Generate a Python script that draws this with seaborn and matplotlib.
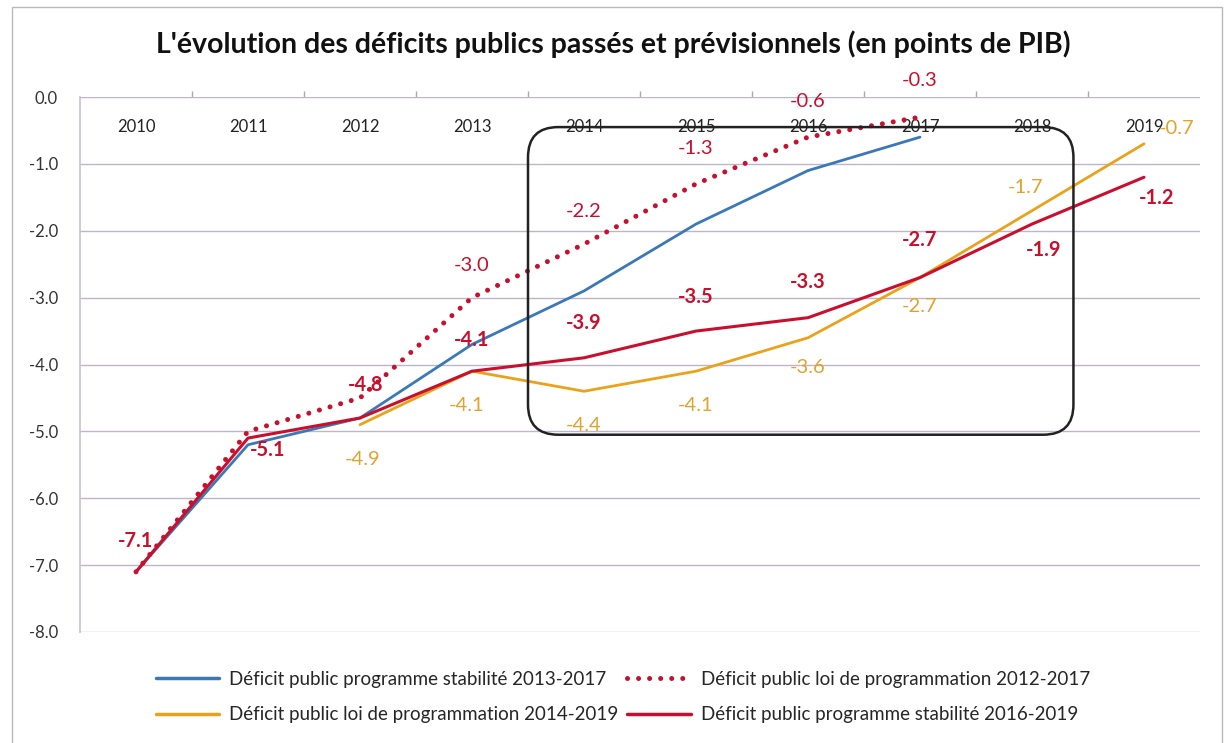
import pandas as pd
import matplotlib.pyplot as plt
import seaborn as sns
from matplotlib.patches import FancyBboxPatch, Rectangle
from matplotlib.lines import Line2D

# data (points de PIB)
years = [2010, 2011, 2012, 2013, 2014, 2015, 2016, 2017, 2018, 2019]

ps_2013_years = [2010, 2011, 2012, 2013, 2014, 2015, 2016, 2017]
ps_2013 = [-7.1, -5.2, -4.8, -3.7, -2.9, -1.9, -1.1, -0.6]

lpfp_2012_years = [2010, 2011, 2012, 2013, 2014, 2015, 2016, 2017]
lpfp_2012 = [-7.1, -5.0, -4.5, -3.0, -2.2, -1.3, -0.6, -0.3]

lpfp_2014_years = [2012, 2013, 2014, 2015, 2016, 2017, 2018, 2019]
lpfp_2014 = [-4.9, -4.1, -4.4, -4.1, -3.6, -2.7, -1.7, -0.7]

ps_2016_years = [2010, 2011, 2012, 2013, 2014, 2015, 2016, 2017, 2018, 2019]
ps_2016 = [-7.1, -5.1, -4.8, -4.1, -3.9, -3.5, -3.3, -2.7, -1.9, -1.2]

names = ["Déficit public programme stabilité 2013-2017",
         "Déficit public loi de programmation 2012-2017",
         "Déficit public loi de programmation 2014-2019",
         "Déficit public programme stabilité 2016-2019"]

BLUE = "#3a78b8"
RED = "#c8102e"
ORANGE = "#eaa21a"
ORANGE_TXT = "#e2a22c"

# label offsets in pixels (dx, dy), years that get a label
lab_lpfp_2012 = {2013: (0, 32), 2014: (0, 33), 2015: (0, 35), 2016: (0, 36), 2017: (0, 37)}
lab_lpfp_2014 = {2012: (3, -35), 2013: (-5, -34), 2014: (0, -34), 2015: (0, -34),
                 2016: (0, -30), 2017: (0, -29), 2018: (-6, 23), 2019: (33, 15)}
lab_ps_2016 = {2010: (0, 31), 2011: (20, -12), 2012: (6, 33), 2013: (0, 31), 2014: (0, 35),
               2015: (0, 34), 2016: (0, 36), 2017: (0, 38), 2018: (12, -26), 2019: (13, -21)}

sns.set_theme(style="white")
plt.rcParams['font.family'] = ['Lato', 'DejaVu Sans']

fig = plt.figure(figsize=(12.26, 7.43), dpi=100)
ax = fig.add_axes([80 / 1226, 1 - 632 / 743, 1120 / 1226, 535 / 743])

df_blue = pd.DataFrame({"year": ps_2013_years, "val": ps_2013})
df_dot = pd.DataFrame({"year": lpfp_2012_years, "val": lpfp_2012})
df_or = pd.DataFrame({"year": lpfp_2014_years, "val": lpfp_2014})
df_red = pd.DataFrame({"year": ps_2016_years, "val": ps_2016})

sns.lineplot(data=df_blue, x="year", y="val", color=BLUE, lw=2.0, ax=ax, zorder=3)
sns.lineplot(data=df_dot, x="year", y="val", color=RED, lw=3.6, ax=ax, zorder=4,
             linestyle=(0, (0.01, 2.2)), dash_capstyle="round")
sns.lineplot(data=df_or, x="year", y="val", color=ORANGE, lw=2.0, ax=ax, zorder=3)
sns.lineplot(data=df_red, x="year", y="val", color=RED, lw=2.2, ax=ax, zorder=3)


def add_labels(xs, vs, offsets, color, weight):
    for x, v in zip(xs, vs):
        if x not in offsets:
            continue
        dx, dy = offsets[x]
        ax.annotate(f"{v:.1f}", (x, v), xytext=(dx, dy), textcoords="offset pixels",
                    ha="center", va="center", fontsize=14.5, color=color,
                    fontweight=weight, zorder=6)


add_labels(lpfp_2012_years, lpfp_2012, lab_lpfp_2012, RED, "normal")
add_labels(lpfp_2014_years, lpfp_2014, lab_lpfp_2014, ORANGE_TXT, "normal")
add_labels(ps_2016_years, ps_2016, lab_ps_2016, RED, "bold")

ax.set_xlim(2009.5, 2019.5)
ax.set_ylim(-8, 0)
ax.set_yticks(range(-8, 1))
ax.set_yticklabels([f"{t:.1f}" for t in range(-8, 1)])
ax.yaxis.grid(True, color="#bdb6c8", lw=1.0)
ax.set_axisbelow(True)

ax.xaxis.tick_top()
ax.set_xticks(years)
ax.set_xticklabels([str(y) for y in years])
ax.set_xticks([y + 0.5 for y in years[:-1]], minor=True)
ax.tick_params(axis="x", which="major", length=0, pad=-27, labelsize=12, labelcolor="#222222")
ax.tick_params(axis="x", which="minor", length=4, color="#aaaaaa", top=True, direction="out")
ax.tick_params(axis="y", length=0, pad=16, labelsize=12, labelcolor="#333333")
ax.set_xlabel("")
ax.set_ylabel("")
for s in ["top", "right", "bottom"]:
    ax.spines[s].set_visible(False)
ax.spines["left"].set_color("#c8c2d2")

# rounded box highlighting 2014-2018
box = FancyBboxPatch((2013.5, -5.05), 4.87, 4.6, boxstyle="round,pad=0,rounding_size=0.27",
                     mutation_aspect=1.67, fill=False, ec="#222222", lw=1.8, zorder=5)
ax.add_patch(box)

fig.suptitle("L'évolution des déficits publics passés et prévisionnels (en points de PIB)",
             y=1 - 44 / 743, va="center", fontsize=20.5, fontweight="bold", color="#111111")

handles = [Line2D([], [], color=BLUE, lw=2.5),
           Line2D([], [], color=ORANGE, lw=2.5),
           Line2D([], [], color=RED, lw=3.6, linestyle=(0, (0.01, 2.2)), dash_capstyle="round"),
           Line2D([], [], color=RED, lw=2.5)]
labels = [names[0], names[2], names[1], names[3]]
fig.legend(handles, labels, ncol=2, loc="center", bbox_to_anchor=(0.508, 1 - 697 / 743),
           frameon=False, fontsize=13.5, handlelength=3.4, columnspacing=0.5,
           labelspacing=1.0, handletextpad=0.5)

# chart frame
fig.add_artist(Rectangle((12 / 1226, -0.01), 1210 / 1226, 1 - 7 / 743 + 0.01,
                         transform=fig.transFigure, fill=False, ec="#b8b8c0", lw=1.0))

fig.savefig("out.png", dpi=100)
